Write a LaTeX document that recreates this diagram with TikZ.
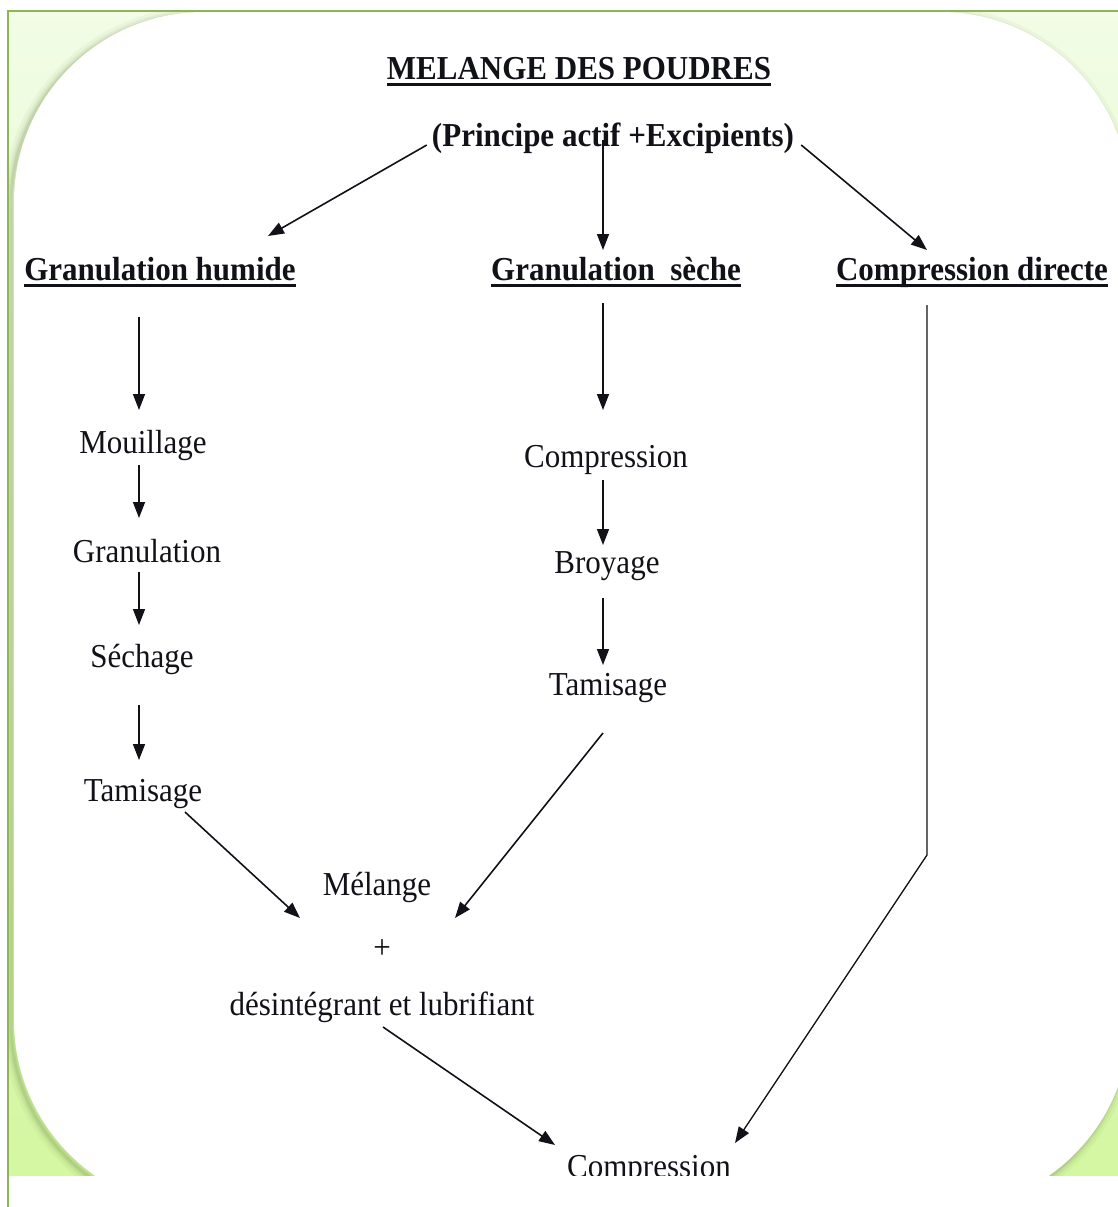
\documentclass[tikz,border=0pt]{standalone}
\usepackage{fontspec}
\usepackage{graphicx}
\setmainfont{Liberation Serif}
\usetikzlibrary{arrows.meta,calc}
\definecolor{ink}{HTML}{111118}
\definecolor{frameline}{HTML}{8DB553}
\definecolor{paletop}{HTML}{F2FCE6}
\definecolor{palebot}{HTML}{D4F7A2}
\definecolor{shadowgreen}{HTML}{5E7A3A}
% slightly taller lettering
\newcommand\tallword[1]{\scalebox{1}[1.08]{#1}}
\begin{document}
\begin{tikzpicture}[x=1pt,y=-1pt,
  lbl/.style={inner sep=0pt, anchor=base, text=ink, font=\fontsize{31}{36}\selectfont},
  hd/.style={lbl, font=\fontsize{31}{36}\selectfont\bfseries},
  ul/.style={draw=ink, line width=2.8pt},
  arr/.style={draw=ink, line width=1.6pt, -{Triangle[length=16pt,width=12pt]}},
  card/.style={rounded corners=190pt}]
\useasboundingbox (0,0) rectangle (1118,1207);
\fill[white] (0,0) rectangle (1118,1207);

% pale green panel
\shade[top color=paletop, bottom color=palebot] (7,11) rectangle (1118,1175);
\begin{scope}
  \clip (9,12.5) rectangle (1118,1175);
  % soft shadow under the white card
  \begin{scope}[shift={(-3,3)}]
    \foreach \w/\o in {16/0.05, 10/0.07, 6/0.09, 3/0.12}
      \draw[card, draw=shadowgreen, line width=\w pt, opacity=\o] (14,12) rectangle (1130,1210);
  \end{scope}
  \fill[card, white] (14,12) rectangle (1130,1210);
\end{scope}
\draw[frameline, line width=2pt] (8,1207) -- (8,11.5) -- (1118,11.5);

\begin{scope}
\clip (0,0) rectangle (1118,1175);

% headings
\node[hd] (title) at (579,80) {\tallword{MELANGE DES POUDRES}};
\node[hd] (pa) at (613,146) {\tallword{(Principe actif +Excipients)}};
\node[hd] (gh) at (160,280) {\tallword{Granulation humide}};
\node[hd] (gs) at (616,280) {\tallword{Granulation\ \ sèche}};
\node[hd] (cd) at (972,280) {\tallword{Compression directe}};

\foreach \n/\d in {title/4.5, gh/5.5, gs/5.5, cd/5.5}
  \draw[ul] ($(\n.base west)+(0,\d)$) -- ($(\n.base east)+(0,\d)$);

% wet granulation steps
\node[lbl] (mou) at (143,453) {\tallword{Mouillage}};
\node[lbl] (gra) at (147,562) {\tallword{Granulation}};
\node[lbl] (sec) at (142,667) {\tallword{Séchage}};
\node[lbl] (taml) at (143,801) {\tallword{Tamisage}};

% dry granulation steps
\node[lbl] (cmp) at (606,467) {\tallword{Compression}};
\node[lbl] (bro) at (607,573) {\tallword{Broyage}};
\node[lbl] (tamm) at (608,695) {\tallword{Tamisage}};

% final mixing and compression
\node[lbl] (mel) at (377,895) {\tallword{Mélange}};
\node[lbl] (plus) at (382,958) {\tallword{+}};
\node[lbl] (des) at (382,1015) {\tallword{désintégrant et lubrifiant}};
\node[lbl] (fin) at (649,1177) {\tallword{Compression}};

% from the powder blend to the three routes
\draw[arr] ($(pa.base west)+(-5,-1)$) -- ($(gh.base)+(108,-44)$);
\draw[arr] ($(pa.base)+(-10,-6)$) -- ($(gs.base)+(-13,-30)$);
\draw[arr] ($(pa.base east)+(7,-1)$) -- ($(cd.base)+(-45,-30)$);

% wet granulation chain
\draw[arr] ($(gh.base)+(-21,37)$) -- ($(mou.base)+(-4,-43)$);
\draw[arr] ($(mou.base)+(-4,12)$) -- ($(gra.base)+(-8,-44)$);
\draw[arr] ($(gra.base)+(-8,10)$) -- ($(sec.base)+(-3,-42)$);
\draw[arr] ($(sec.base)+(-3,38)$) -- ($(taml.base)+(-4,-41)$);

% dry granulation chain
\draw[arr] ($(gs.base)+(-13,23)$) -- ($(cmp.base)+(-3,-57)$);
\draw[arr] ($(cmp.base)+(-3,13)$) -- ($(bro.base)+(-4,-28)$);
\draw[arr] ($(bro.base)+(-4,25)$) -- ($(tamm.base)+(-5,-30)$);

% both granulates go to the final blend
\draw[arr] ($(taml.base)+(42,11)$) -- ($(mel.base)+(-77,23)$);
\draw[arr] ($(tamm.base)+(-5,38)$) -- ($(mel.base)+(78,23)$);

% blend and direct compression meet at the press
\draw[arr] ($(des.base)+(1,12)$) -- ($(fin.base)+(-94,-32)$);
\draw[arr, line width=1.3pt] ($(cd.base)+(-45,25)$) -- ++(0,550) -- ($(fin.base)+(86,-34)$);
\end{scope}
\end{tikzpicture}
\end{document}
